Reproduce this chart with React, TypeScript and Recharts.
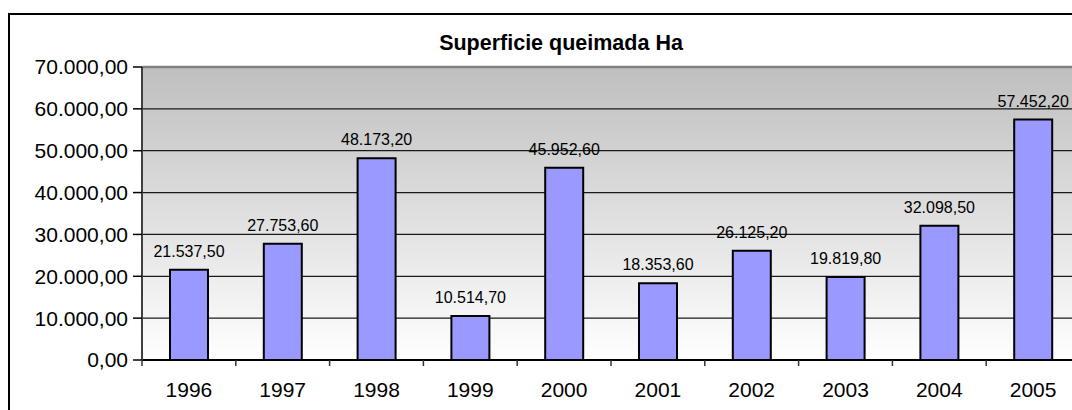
import React from 'react';
import {BarChart, Bar, XAxis, YAxis, CartesianGrid, LabelList, ReferenceLine} from 'recharts';

const years = ['1996', '1997', '1998', '1999', '2000', '2001', '2002', '2003', '2004', '2005'];
const burnedArea = [21537.5, 27753.6, 48173.2, 10514.7, 45952.6, 18353.6, 26125.2, 19819.8, 32098.5, 57452.2];
const yTicks = [0, 10000, 20000, 30000, 40000, 50000, 60000, 70000];

const chartData = years.map((year, i) => ({year, area: burnedArea[i]}));

const FONT = '"Liberation Sans", Arial, sans-serif';

// formato pt: 48.173,20
const fmt = (v: number): string => {
    const [int, dec] = v.toFixed(2).split('.');
    return int.replace(/\B(?=(\d{3})+(?!\d))/g, '.') + ',' + dec;
};

// tick entre categorias + rótulo centrado
const XTick = (props: any) => {
    const {x, y, payload} = props;
    const half = payload && payload.offset ? payload.offset : 0;
    return (
        <g>
            <line x1={x - half} x2={x - half} y1={y} y2={y + 6} stroke="#333" strokeWidth={1.5}/>
            <text x={x} y={y + 37} textAnchor="middle" fontSize={21} fontFamily={FONT} fill="#000">
                {payload.value}
            </text>
        </g>
    );
};

export default function App() {
    return (
        <div style={{position: 'absolute', left: 0, top: 0, width: 1072, height: 410, overflow: 'hidden', background: '#fff'}}>
            <svg width={0} height={0} style={{position: 'absolute'}}>
                <defs>
                    <linearGradient id="plotBg" x1="0" y1="0" x2="0" y2="1">
                        <stop offset="0%" stopColor="#bfbfbf"/>
                        <stop offset="100%" stopColor="#ffffff"/>
                    </linearGradient>
                </defs>
            </svg>
            <div style={{position: 'absolute', left: 8, top: 13, width: 1100, height: 440, border: '2px solid #000'}}/>
            <div style={{
                position: 'absolute', left: 361, top: 33, width: 400, textAlign: 'center',
                fontFamily: FONT, fontSize: 21.5, fontWeight: 'bold', lineHeight: '20px', color: '#000',
            }}>
                Superficie queimada Ha
            </div>
            <div style={{position: 'absolute', left: 0, top: 0}}>
                <BarChart
                    width={1100}
                    height={410}
                    data={chartData}
                    margin={{top: 67, right: 20, left: 12, bottom: 10}}
                    barSize={38}
                >
                    <CartesianGrid vertical={false} stroke="#1a1a1a" strokeWidth={1.2} fill="url(#plotBg)"/>
                    <XAxis
                        dataKey="year"
                        height={40}
                        tickSize={0}
                        tickMargin={0}
                        tickLine={false}
                        axisLine={{stroke: '#000', strokeWidth: 2}}
                        tick={<XTick/>}
                        interval={0}
                    />
                    <YAxis
                        width={130}
                        domain={[0, 70000]}
                        ticks={yTicks}
                        tickFormatter={fmt}
                        tickSize={9}
                        tickMargin={5}
                        tickLine={{stroke: '#000', strokeWidth: 1.5}}
                        axisLine={{stroke: '#404040', strokeWidth: 2}}
                        tick={{fontSize: 21, fontFamily: FONT, fill: '#000'}}
                        interval={0}
                    />
                    <ReferenceLine y={70000} stroke="#808080" strokeWidth={2.5}/>
                    <Bar dataKey="area" fill="#9999ff" stroke="#000" strokeWidth={2} isAnimationActive={false}>
                        <LabelList
                            dataKey="area"
                            position="top"
                            offset={13}
                            formatter={(v: any) => fmt(Number(v))}
                            style={{fontSize: 16, fontFamily: FONT, fill: '#000'}}
                        />
                    </Bar>
                </BarChart>
            </div>
        </div>
    );
}
